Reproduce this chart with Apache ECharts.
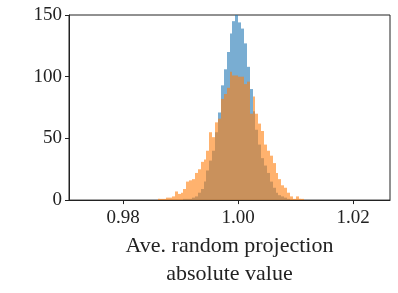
<!DOCTYPE html>
<html>
<head>
<meta charset="utf-8">
<script src="https://cdn.jsdelivr.net/npm/echarts@6/dist/echarts.min.js"></script>
<style>
  html, body { margin: 0; padding: 0; background: #fff; }
  #chart { width: 398px; height: 293px; }
</style>
</head>
<body>
<div id="chart"></div>
<script>
// Histogram bins: left edge of first bin and common bin width
const binStart = 0.986;
const binWidth = 0.0005;

// Counts per bin (bins k = -28 .. 22 relative to 1.000)
const blueCounts = [
  0, 0, 0, 0, 0, 0, 0, 0, 0,
  1, 1, 1, 2, 3, 6, 9, 15, 24, 32, 40, 55, 71, 93, 106, 120, 135, 145, 150,
  144, 139, 127, 108, 90, 72, 57, 45, 34, 28, 22, 15, 10, 6, 4, 3, 2, 1,
  0, 0, 0, 0, 0
];
const orangeCounts = [
  1, 1, 1, 2, 2, 3, 7, 5, 6,
  9, 15, 16, 17, 22, 25, 31, 33, 40, 55, 51, 63, 66, 82, 86, 91, 104, 101, 101,
  100, 100, 94, 96, 70, 84, 70, 62, 56, 45, 40, 36, 30, 22, 17, 12, 10, 6,
  3, 1, 3, 1, 1
];

const xTicks = [0.98, 1.00, 1.02];
const yTicks = [0, 50, 100, 150];
const xLabel = 'Ave. random projection\nabsolute value';

function toBins(counts) {
  return counts.map((c, i) => {
    const x0 = binStart + i * binWidth;
    return [x0, x0 + binWidth, c];
  });
}

function makeRender(fill) {
  return function (params, api) {
    const x0 = api.value(0), x1 = api.value(1), h = api.value(2);
    if (!h) return null;
    const p0 = api.coord([x0, h]);
    const p1 = api.coord([x1, 0]);
    const left = Math.round(p0[0]);
    const right = Math.round(p1[0]);
    return {
      type: 'rect',
      shape: { x: left, y: p0[1], width: right - left, height: p1[1] - p0[1] },
      style: { fill: fill }
    };
  };
}

const font = 'Liberation Serif';
const chart = echarts.init(document.getElementById('chart'), null, { renderer: 'canvas' });
chart.setOption({
  animation: false,
  backgroundColor: '#fff',
  grid: {
    left: 69, right: 8, top: 15, bottom: 91,
    show: true, borderColor: '#222', borderWidth: 1, backgroundColor: 'transparent'
  },
  xAxis: {
    type: 'value',
    min: 0.9706, max: 1.0264,
    name: xLabel,
    nameLocation: 'middle',
    nameGap: 29,
    nameTextStyle: { fontFamily: font, fontSize: 22, color: '#222', lineHeight: 28 },
    axisLine: { show: true, onZero: false, lineStyle: { color: '#222', width: 1 } },
    axisTick: { show: true, length: 4, customValues: xTicks, lineStyle: { color: '#222' } },
    axisLabel: {
      customValues: xTicks,
      margin: 8,
      fontFamily: font, fontSize: 19, color: '#222',
      formatter: v => v.toFixed(2)
    },
    splitLine: { show: false }
  },
  yAxis: {
    type: 'value',
    min: 0, max: 150, interval: 50,
    axisLine: { show: true, lineStyle: { color: '#222', width: 1 } },
    axisTick: { show: true, length: 4, lineStyle: { color: '#222' } },
    axisLabel: {
      margin: 7,
      fontFamily: font, fontSize: 19, color: '#222',
      formatter: v => yTicks.includes(v) ? String(v) : ''
    },
    splitLine: { show: false }
  },
  series: [
    {
      type: 'custom',
      clip: true,
      renderItem: makeRender('rgba(31,119,180,0.6)'),
      encode: { x: [0, 1], y: 2 },
      data: toBins(blueCounts)
    },
    {
      type: 'custom',
      clip: true,
      renderItem: makeRender('rgba(255,127,14,0.6)'),
      encode: { x: [0, 1], y: 2 },
      data: toBins(orangeCounts)
    }
  ]
});
</script>
</body>
</html>
